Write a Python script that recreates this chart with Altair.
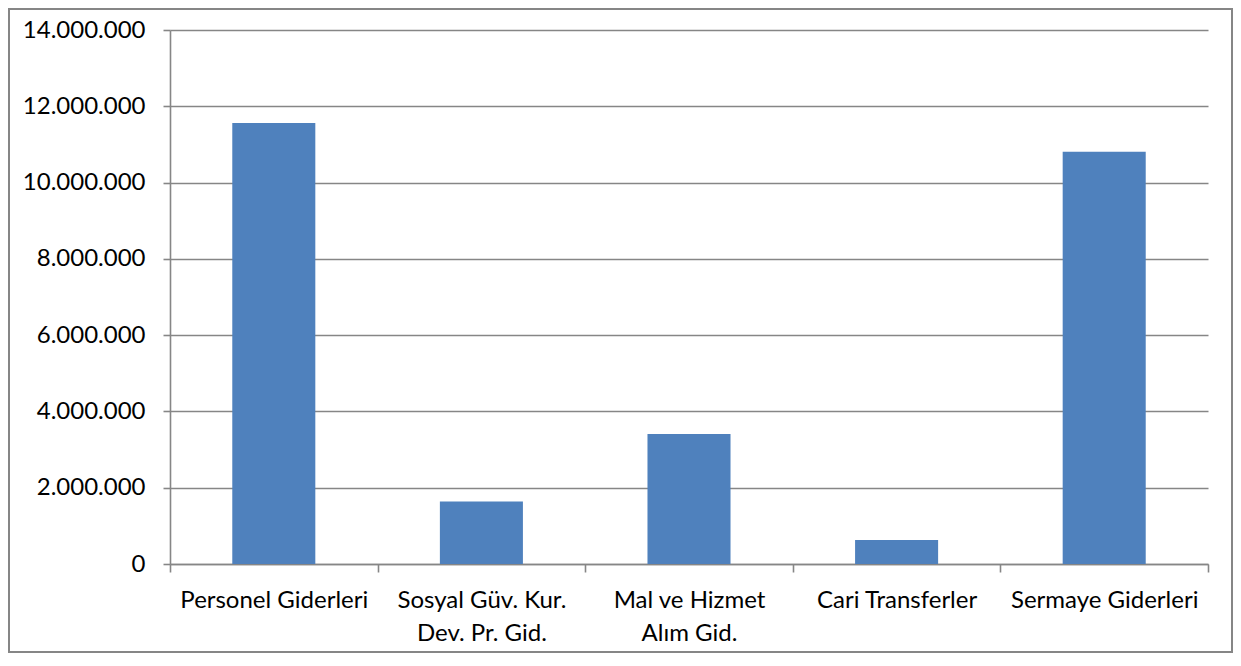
import altair as alt
import pandas as pd

categories = [
    "Personel Giderleri",
    "Sosyal Güv. Kur.|Dev. Pr. Gid.",
    "Mal ve Hizmet|Alım Gid.",
    "Cari Transferler",
    "Sermaye Giderleri",
]
values = [11560000, 1640000, 3410000, 630000, 10810000]
y_ticks = [0, 2000000, 4000000, 6000000, 8000000, 10000000, 12000000, 14000000]

df = pd.DataFrame({"kalem": categories, "tutar": values})

W, H = 1038, 534
PAD_L, PAD_T, PAD_R, PAD_B = 162, 22, 25, 89
STEP = W / len(categories)
HALF_GAP = 0.3 * STEP

grid = "#868686"
font = "Lato"
FS = 24

bars = alt.Chart(df).mark_bar(color="#4F81BD").encode(
    x=alt.X(
        "kalem:N",
        sort=categories,
        scale=alt.Scale(paddingInner=0.6, paddingOuter=0.3),
        axis=alt.Axis(
            title=None, labelAngle=0,
            labelExpr="split(datum.label, '|')",
            labelFont=font, labelFontSize=FS, labelColor="#000000",
            labelLineHeight=33, labelPadding=16, labelLimit=0,
            tickSize=8, tickColor=grid, tickWidth=1.6,
            domainColor=grid, domainWidth=1.6,
            bandPosition=2.5, tickExtra=True,
            tickOffset=-HALF_GAP, labelOffset=HALF_GAP,
            grid=False,
        ),
    ),
    y=alt.Y(
        "tutar:Q",
        scale=alt.Scale(domain=[0, 14000000], nice=False),
        axis=alt.Axis(
            title=None, values=y_ticks,
            labelExpr="join(split(format(datum.value, ','), ','), '.')",
            labelFont=font, labelFontSize=FS, labelColor="#000000",
            labelPadding=18, tickSize=7, tickColor=grid, tickWidth=1.6,
            domainColor=grid, domainWidth=1.6,
            grid=True, gridColor=grid, gridWidth=1.6,
        ),
    ),
)

frame = alt.Chart(pd.DataFrame({"a": [0]})).mark_rect(
    fillOpacity=0, stroke=grid, strokeWidth=2
).encode(
    x=alt.value(-161), x2=alt.value(W + 24),
    y=alt.value(-21), y2=alt.value(H + 88),
)

chart = alt.layer(bars, frame).properties(
    width=W, height=H,
    padding={"left": PAD_L, "top": PAD_T, "right": PAD_R, "bottom": PAD_B},
    autosize=alt.AutoSizeParams(type="none"),
).configure_view(stroke=None)

chart.save("out.html", embed_options={"renderer": "svg", "actions": False})
